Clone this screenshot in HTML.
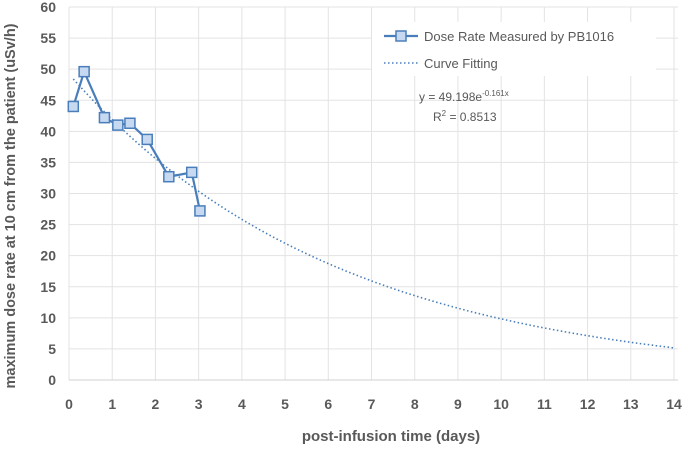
<!DOCTYPE html>
<html><head><meta charset="utf-8"><style>
body{margin:0;background:#fff;font-family:"Liberation Sans",sans-serif}
svg text{font-family:"Liberation Sans",sans-serif;fill:#595959}
</style></head><body>
<svg width="685" height="444" id="c">
</svg>
<script>
const xs=[0.1,0.35,0.82,1.13,1.41,1.81,2.31,2.84,3.03];
const ys=[44.0,49.6,42.2,41.0,41.3,38.7,32.7,33.4,27.2];
const xTicks=[0,1,2,3,4,5,6,7,8,9,10,11,12,13,14];
const yTicks=[0,5,10,15,20,25,30,35,40,45,50,55,60];
const fitA=49.198, fitB=-0.161;
const X0=69,X1=674,Y0=380,Y1=7;
const sx=v=>X0+(v-0)/14*(X1-X0);
const sy=v=>Y0-(v/60)*(Y0-Y1);
const svg=document.getElementById('c');
const NS='http://www.w3.org/2000/svg';
function mk(t,a,p){const e=document.createElementNS(NS,t);for(const k in a)e.setAttribute(k,a[k]);(p||svg).appendChild(e);return e;}
xTicks.forEach(v=>{
 const l=mk('line',{x1:sx(v),x2:sx(v),y1:Y1,y2:Y0,stroke:'#e3e3e3','stroke-width':1});
 
 
 const t=mk('text',{x:sx(v),y:409,'text-anchor':'middle','font-size':14,'font-weight':'bold'});t.textContent=v;
 
 
});
yTicks.forEach(v=>{
 const l=mk('line',{x1:X0,x2:X1+4,y1:sy(v),y2:sy(v),stroke:v===0?'#d0d0d0':'#e3e3e3','stroke-width':1});
 
 
 const t=mk('text',{x:56,y:sy(v)+5,'text-anchor':'end','font-size':14,'font-weight':'bold'});t.textContent=v;
 
 
});
// fit
let d='';for(let i=1;i<=140;i++){const x=i/10;d+=(i>1?'L':'M')+sx(x).toFixed(1)+','+sy(fitA*Math.exp(fitB*x)).toFixed(1);}
const f=mk('path',{d:d,fill:'none',stroke:'#4a7ebb','stroke-width':1.6,'stroke-dasharray':'1.5 2.5'});


const pl=mk('polyline',{points:xs.map((x,i)=>sx(x)+','+sy(ys[i])).join(' '),fill:'none',stroke:'#4a7ebb','stroke-width':2.2});


xs.forEach((x,i)=>{
 const r=mk('rect',{x:sx(x)-5,y:sy(ys[i])-5,width:10,height:10,fill:'#c6d9f1',stroke:'#4a7ebb','stroke-width':1.5});
 
 
});
// legend
const lg=mk('g',{});


mk('rect',{x:372,y:22,width:284,height:54,fill:'#fff'},lg);
mk('line',{x1:384,x2:418,y1:36,y2:36,stroke:'#4a7ebb','stroke-width':2.2},lg);
mk('rect',{x:396,y:31,width:10,height:10,fill:'#c6d9f1',stroke:'#4a7ebb','stroke-width':1.5},lg);
const t1=mk('text',{x:424,y:41,'font-size':13},lg);t1.textContent='Dose Rate Measured by PB1016';
mk('line',{x1:384,x2:418,y1:63,y2:63,stroke:'#4a7ebb','stroke-width':1.6,'stroke-dasharray':'1.5 2.5'},lg);
const t2=mk('text',{x:424,y:68,'font-size':13},lg);t2.textContent='Curve Fitting';
const eq=mk('text',{x:419,y:101,'font-size':12});


eq.innerHTML='y = 49.198e<tspan dy="-5" font-size="8">-0.161x</tspan>';
const r2=mk('text',{x:433,y:121,'font-size':12});


r2.innerHTML='R<tspan dy="-5" font-size="8">2</tspan><tspan dy="5"> = 0.8513</tspan>';
const xt=mk('text',{x:391,y:441,'text-anchor':'middle','font-size':15,'font-weight':'bold'});xt.textContent='post-infusion time (days)';


const yt=mk('text',{x:0,y:0,'text-anchor':'middle','font-size':14.5,'font-weight':'bold',transform:'translate(15,206) rotate(-90)'});yt.textContent='maximum dose rate at 10 cm from the patient (uSv/h)';


</script>
</body></html>
